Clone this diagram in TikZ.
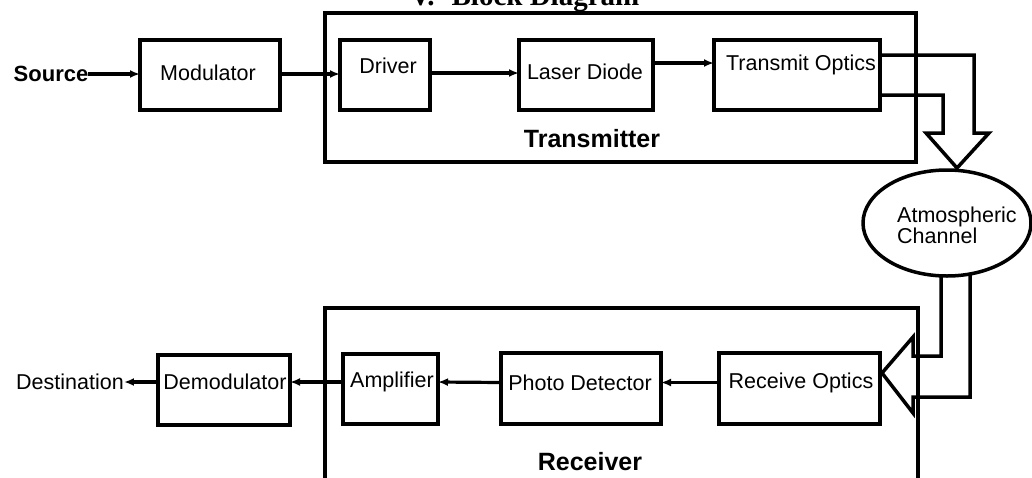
\documentclass[tikz,border=0pt]{standalone}
\usepackage{fontspec}
\setmainfont{Liberation Sans}
\newfontfamily\titlefont{Liberation Serif}
\usetikzlibrary{shapes.geometric,arrows.meta,calc}
\tikzset{
  blk/.style={draw, line width=3.6pt, rectangle, inner sep=0pt, outer sep=0pt},
  outer/.style={draw, line width=4pt},
  lbl/.style={inner sep=0pt, font=\fontsize{21.5pt}{21pt}\selectfont},
  big/.style={inner sep=0pt, font=\fontsize{25pt}{25pt}\selectfont\bfseries},
  arr/.style={line width=3.2pt, -{Latex[length=10pt,width=8pt]}},
  hollow/.style={line width=3.5pt, line join=miter}
}
\begin{document}
\begin{tikzpicture}[x=1pt,y=-1pt]
\useasboundingbox (0,0) rectangle (1032,477);
\clip (0,0) rectangle (1032,477);
\fill[white] (0,0) rectangle (1032,477);
% title
\node[anchor=base west, inner sep=0pt, font=\titlefont\fontsize{29pt}{29pt}\selectfont\bfseries] (title) at (410,5) {V.\hspace{17pt}Block Diagram};
% outer boxes
\draw[outer] (325,13) rectangle (916,162);
\draw[outer] (325,480) -- (325,308) -- (918,308) -- (918,480);
\node[big] (txlabel) at (592,139) {Transmitter};
\node[big] (rxlabel) at (590,462) {Receiver};
% transmitter chain
\node[lbl, font=\fontsize{22pt}{22pt}\selectfont\bfseries] (src) at (51,74) {Source};
\node[blk, minimum width=140pt, minimum height=70pt] (mod) at (210,75) {};
\node[lbl] (modt) at (208,73) {Modulator};
\node[blk, minimum width=90pt, minimum height=70pt] (drv) at (385,75) {};
\node[lbl] (drvt) at (388,66) {Driver};
\node[blk, minimum width=134pt, minimum height=70pt] (las) at (586,75) {};
\node[lbl] (last) at (585,72) {Laser Diode};
\node[blk, minimum width=166pt, minimum height=70pt] (tx) at (797,75) {};
\node[lbl] (txt) at (801,65) {Transmit Optics};
\draw[arr] (src.east) -- (src.east -| mod.west);
\draw[arr] ($(mod.east)+(0,-1)$) -- ($(drv.west)+(0,-1)$);
\draw[arr] ($(drv.east)+(0,-2)$) -- ($(las.west)+(0,-2)$);
\draw[arr] ($(las.east)+(0,-12)$) -- ($(tx.west)+(0,-12)$);
% atmospheric channel
\node[draw, ellipse, line width=3.5pt, minimum width=168pt, minimum height=106pt, inner sep=0pt] (atm) at (947,223) {};
\node[lbl, anchor=north west, align=left] (atmt) at (897,207) {Atmospheric\\Channel};
% hollow arrow from transmit optics
\draw[hollow] ($(tx.north east)+(0,15)$) -- (974,55) -- (974,133) -- (989,133) -- (957,168) -- (926,133) -- (943,133) -- (943,95) -- ($(tx.south east)+(0,-15)$);
% hollow arrow to receive optics
\node[blk, minimum width=161pt, minimum height=71pt] (rx) at (799.5,388.5) {};
\node[lbl] (rxt) at (801,383) {Receive Optics};
\draw[hollow] ($(atm.south)+(-6,-2)$) -- (941,356) -- (913,356) -- (913,337) -- (882,373) -- (913,413) -- (913,397) -- (970,397) -- ($(atm.south)+(23,-4)$);
% receiver chain
\node[blk, minimum width=160pt, minimum height=71pt] (pd) at (581,388.5) {};
\node[lbl] (pdt) at (580,383) {Photo Detector};
\node[blk, minimum width=95pt, minimum height=70pt] (amp) at (390.5,389) {};
\node[lbl] (ampt) at (392,382) {Amplifier};
\node[blk, minimum width=132pt, minimum height=70pt] (dem) at (224,390) {};
\node[lbl] (demt) at (225,382) {Demodulator};
\node[lbl] (dst) at (70,382) {Destination};
\draw[arr] ($(rx.west)+(0,-6)$) -- ($(pd.east)+(0,-6)$);
\draw[arr] ($(pd.west)+(0,-6)$) -- ($(amp.east)+(0,-7)$);
\draw[arr] ($(amp.west)+(0,-7)$) -- ($(dem.east)+(0,-8)$);
\draw[arr] ($(dem.west)+(0,-8)$) -- (dst.east |- 0,382);
\end{tikzpicture}
\end{document}
